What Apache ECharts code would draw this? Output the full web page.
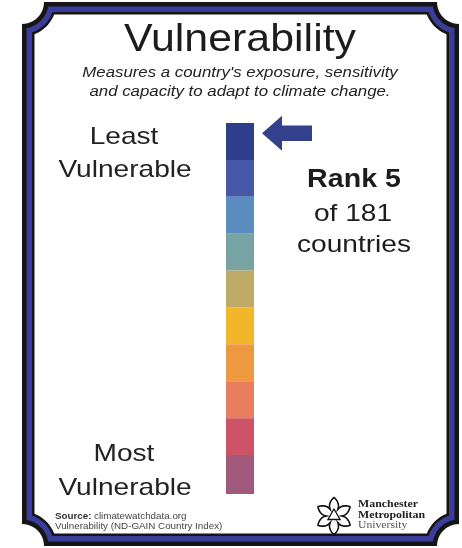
<!DOCTYPE html>
<html><head><meta charset="utf-8">
<script src="https://cdn.jsdelivr.net/npm/echarts@6/dist/echarts.min.js"></script>
<style>html,body{margin:0;padding:0;background:#fff}#c{width:462px;height:548px}</style>
</head><body><div id="c"></div>
<script>
// ---- data ----
const countryRank = 5;
const totalCountries = 181;
const bandSizes = [18, 18, 18, 18, 18, 18, 18, 18, 18, 19]; // ranks per colour band, least -> most vulnerable
const bandColors = ['#2f3e8b', '#4658a7', '#5a8cc0', '#77a4a3', '#bcaa66', '#f1b62a', '#ee993f', '#e87e5e', '#cc5368', '#a05a7b'];
const titleText = 'Vulnerability';
const subtitleLines = ["Measures a country's exposure, sensitivity", 'and capacity to adapt to climate change.'];

// ---- frame (decoration) ----
const FL = 22, FT = 2, FR = 459, FB = 546, FR0 = 22;
function framePoints(d) {
  const r = FR0 + d;
  const corners = [[FR, FT], [FR, FB], [FL, FB], [FL, FT]];
  const pts = [];
  const a0 = Math.asin(d / r) * 180 / Math.PI;
  const arcs = [[180 - a0, 90 + a0], [270 - a0, 180 + a0], [360 - a0, 270 + a0], [90 - a0, 0 + a0]];
  for (let c = 0; c < 4; c++) {
    const [cx, cy] = corners[c];
    const [s, e] = arcs[c];
    for (let k = 0; k <= 12; k++) {
      const a = (s + (e - s) * k / 12) * Math.PI / 180;
      pts.push([cx + r * Math.cos(a), cy + r * Math.sin(a)]);
    }
  }
  return pts;
}
function logoPoints(cx, cy) {
  const P = (rad, ang) => [cx + rad * Math.cos(ang * Math.PI / 180), cy + rad * Math.sin(ang * Math.PI / 180)];
  const pts = [];
  for (let k = 0; k < 6; k++) {
    const a = -90 + 60 * k;
    for (let j = -30; j < 30; j += 3) {
      const t = Math.abs(j) / 30;
      const rad = 7.5 + 11 * Math.pow(1 - t, 0.7);
      pts.push(P(rad, a + j));
    }
  }
  return pts;
}
function innerTri(cx, cy) {
  const pts = [];
  for (let k = 0; k < 3; k++) {
    const a = (-90 + 120 * k) * Math.PI / 180;
    pts.push([cx + 7 * Math.cos(a), cy + 7 * Math.sin(a)]);
  }
  return pts;
}

const SANS = 'Liberation Sans, Arial, Helvetica, sans-serif';
function txt(str, cx, base, size, o) {
  o = o || {};
  return {
    type: 'text', x: cx, y: base - 0.25 * size, scaleX: o.sx || 1, z: 10,
    style: {
      x: 0, y: 0, text: str, fill: o.color || '#1c1c1c',
      font: (o.italic ? 'italic ' : '') + (o.bold ? 'bold ' : '') + size + 'px ' + (o.family || SANS),
      textAlign: o.align || 'center', textVerticalAlign: 'middle'
    }
  };
}

const graphics = [
  { type: 'polygon', z: 0, shape: { points: framePoints(0) }, style: { fill: '#151515' } },
  { type: 'polygon', z: 0, shape: { points: framePoints(4.5) }, style: { fill: '#3a3e9a' } },
  { type: 'polygon', z: 0, shape: { points: framePoints(10) }, style: { fill: '#151515' } },
  { type: 'polygon', z: 0, shape: { points: framePoints(12.5) }, style: { fill: '#ffffff' } },
  txt(titleText, 240, 50, 39, { sx: 1.1 }),
  txt(subtitleLines[0], 240, 77, 14.5, { sx: 1.16, italic: true, color: '#222' }),
  txt(subtitleLines[1], 240, 96, 14.5, { sx: 1.16, italic: true, color: '#222' }),
  txt('Least', 124, 143.3, 24, { sx: 1.17, color: '#222' }),
  txt('Vulnerable', 125, 176.7, 24, { sx: 1.17, color: '#222' }),
  txt('Most', 124, 460.5, 24, { sx: 1.17, color: '#222' }),
  txt('Vulnerable', 125, 494, 24, { sx: 1.17, color: '#222' }),
  txt('Rank ' + countryRank, 354, 186.7, 26, { sx: 1.1, bold: true }),
  txt('of ' + totalCountries, 353, 220.7, 24, { sx: 1.17 }),
  txt('countries', 354, 251, 24, { sx: 1.17 }),
  txt('Source:', 55, 518.3, 9.8, { bold: true, align: 'left', color: '#333' }),
  txt('climatewatchdata.org', 94, 518.3, 9.8, { align: 'left', color: '#444' }),
  txt('Vulnerability (ND-GAIN Country Index)', 55, 528.3, 9.8, { align: 'left', color: '#444' }),
  { type: 'polygon', z: 10, shape: { points: logoPoints(334, 516) }, style: { fill: 'none', stroke: '#111', lineWidth: 1.6 } },
  { type: 'polygon', z: 10, shape: { points: innerTri(334, 516) }, style: { fill: 'none', stroke: '#111', lineWidth: 1.3 } },
  txt('Manchester', 358, 507, 11, { bold: true, align: 'left', family: 'Liberation Serif, serif', sx: 1.08, color: '#222' }),
  txt('Metropolitan', 358, 517.5, 11, { bold: true, align: 'left', family: 'Liberation Serif, serif', sx: 1.08, color: '#222' }),
  txt('University', 358, 528, 11, { align: 'left', family: 'Liberation Serif, serif', sx: 1.06, color: '#555' })
];

const series = bandSizes.map((v, i) => ({
  type: 'bar', stack: 'rank', data: [v], barWidth: '100%', z: 3,
  itemStyle: { color: bandColors[i] }, silent: true
}));
series.push({
  type: 'scatter', data: [[0, countryRank]], z: 5, silent: true,
  symbol: 'path://M0 18 L20 0 L20 10 L50 10 L50 26 L20 26 L20 36 Z',
  symbolSize: [50, 35], symbolOffset: [47, 0],
  itemStyle: { color: '#33418c', opacity: 1 }
});

const chart = echarts.init(document.getElementById('c'), null, { renderer: 'canvas' });
chart.setOption({
  animation: false,
  backgroundColor: '#ffffff',
  grid: { left: 226, top: 123, width: 28, height: 371 },
  xAxis: { type: 'category', data: ['Vulnerability'], show: false },
  yAxis: { type: 'value', min: 0, max: totalCountries, inverse: true, show: false },
  graphic: { elements: graphics },
  series: series
});
</script></body></html>
